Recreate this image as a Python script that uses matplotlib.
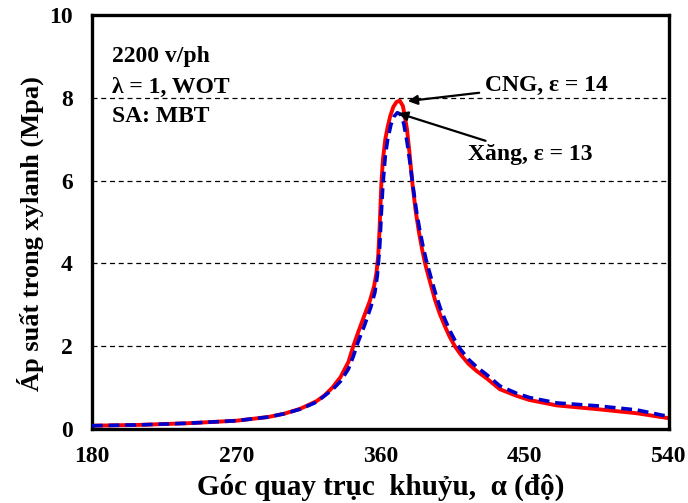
import numpy as np
import matplotlib
matplotlib.use("Agg")
import matplotlib.pyplot as plt

# crank angle (deg) and cylinder pressure (MPa)
cng_angle = [180, 210, 240, 270, 290, 300, 310, 320, 325, 330, 335, 340, 343, 346, 350, 353.4,
             356, 357.5, 358.6, 359.5, 360.5, 361.5, 363, 364.5, 366, 368, 370, 372, 374, 376.5,
             378, 380, 382, 384, 386, 388, 390, 392, 394, 397, 400, 403, 406.4, 410, 415, 420,
             426, 434.5, 445, 453, 470, 495, 520, 540]
cng_p = [0.08, 0.10, 0.14, 0.20, 0.29, 0.37, 0.49, 0.67, 0.81, 1.0, 1.25, 1.62, 2.0, 2.33, 2.75, 3.1,
         3.45, 3.78, 4.2, 4.9, 5.9, 6.5, 7.0, 7.3, 7.55, 7.78, 7.9, 7.93, 7.8, 7.25,
         6.7, 5.9, 5.25, 4.75, 4.33, 3.97, 3.68, 3.4, 3.12, 2.78, 2.5, 2.24, 2.0, 1.8, 1.57, 1.4,
         1.23, 0.96, 0.8, 0.7, 0.57, 0.48, 0.38, 0.26]

xang_angle = [180, 210, 240, 270, 290, 300, 310, 320, 330, 335, 340, 343, 346, 350, 354,
              356.5, 358, 359.5, 360.5, 361.5, 363, 364.5, 366.5, 368.5, 370.5, 372.5, 374.5, 376.5,
              378.5, 380.5, 382.5, 384.5, 386.5, 388.5, 390.5, 392.5, 394.5, 397.5, 400.5, 403.5,
              407, 410, 415, 420, 426, 434.5, 445, 453, 470, 495, 520, 540]
xang_p = [0.08, 0.10, 0.14, 0.20, 0.29, 0.37, 0.48, 0.65, 0.95, 1.15, 1.45, 1.75, 2.1, 2.5, 2.95,
          3.3, 3.7, 4.4, 5.2, 5.9, 6.6, 7.0, 7.35, 7.55, 7.64, 7.6, 7.38, 6.95,
          6.4, 5.8, 5.25, 4.8, 4.42, 4.08, 3.8, 3.52, 3.25, 2.9, 2.62, 2.36,
          2.1, 1.92, 1.68, 1.5, 1.32, 1.04, 0.86, 0.76, 0.63, 0.56, 0.46, 0.3]

xticks = [180, 270, 360, 450, 540]
yticks = [0, 2, 4, 6, 8, 10]

serif = ["Liberation Serif", "DejaVu Serif"]
plt.rcParams["font.family"] = serif
plt.rcParams["font.weight"] = "bold"

fig = plt.figure(figsize=(6.88, 5.03), dpi=100)
ax = fig.add_axes([0.1337, 0.1471, 0.8387, 0.8231])

for y in [2, 4, 6, 8]:
    ax.axhline(y, color="black", lw=0.9, ls=(0, (4, 3)), zorder=1)

ax.plot(xang_angle, xang_p, color="#0000cc", lw=2.6, ls=(0, (3, 1.6)), zorder=3)
ax.plot(cng_angle, cng_p, color="#ff0000", lw=2.8, zorder=2)

ax.set_xlim(180, 540)
ax.set_ylim(0, 10)
ax.set_xticks(xticks)
ax.set_yticks(yticks)
ax.tick_params(length=0, labelsize=17, pad=12)
ax.tick_params(axis="y", pad=14)
for lbl in ax.get_xticklabels() + ax.get_yticklabels():
    lbl.set_fontweight("bold")
for s in ax.spines.values():
    s.set_linewidth(2.4)

ax.set_xlabel("Góc quay trục  khuỷu,  α (độ)", fontsize=21, fontweight="bold")
ax.xaxis.set_label_coords(0.5, -0.142)
ax.set_ylabel("Áp suất trong xylanh (Mpa)", fontsize=19, fontweight="bold")
ax.yaxis.set_label_coords(-0.107, 0.473)
ax.yaxis.label.set_va("center")
ax.xaxis.label.set_va("center")

ax.text(192.5, 8.99, "2200 v/ph", fontsize=17, fontweight="bold", va="center")
ax.text(192.5, 8.24, "λ = 1, WOT", fontsize=17, fontweight="bold", va="center")
ax.text(192.5, 7.54, "SA: MBT", fontsize=17, fontweight="bold", va="center")

arrow = dict(arrowstyle="-|>", color="black", lw=1.6, mutation_scale=14, shrinkA=2, shrinkB=0)
ax.annotate("CNG, ε = 14", xy=(377, 7.92), xytext=(425, 8.31), fontsize=17, fontweight="bold",
            va="center", ha="left", arrowprops=arrow)
ax.annotate("Xăng, ε = 13", xy=(371, 7.63), xytext=(414.5, 6.62), fontsize=17, fontweight="bold",
            va="center", ha="left", arrowprops=arrow)

fig.savefig("out.png", dpi=100)
